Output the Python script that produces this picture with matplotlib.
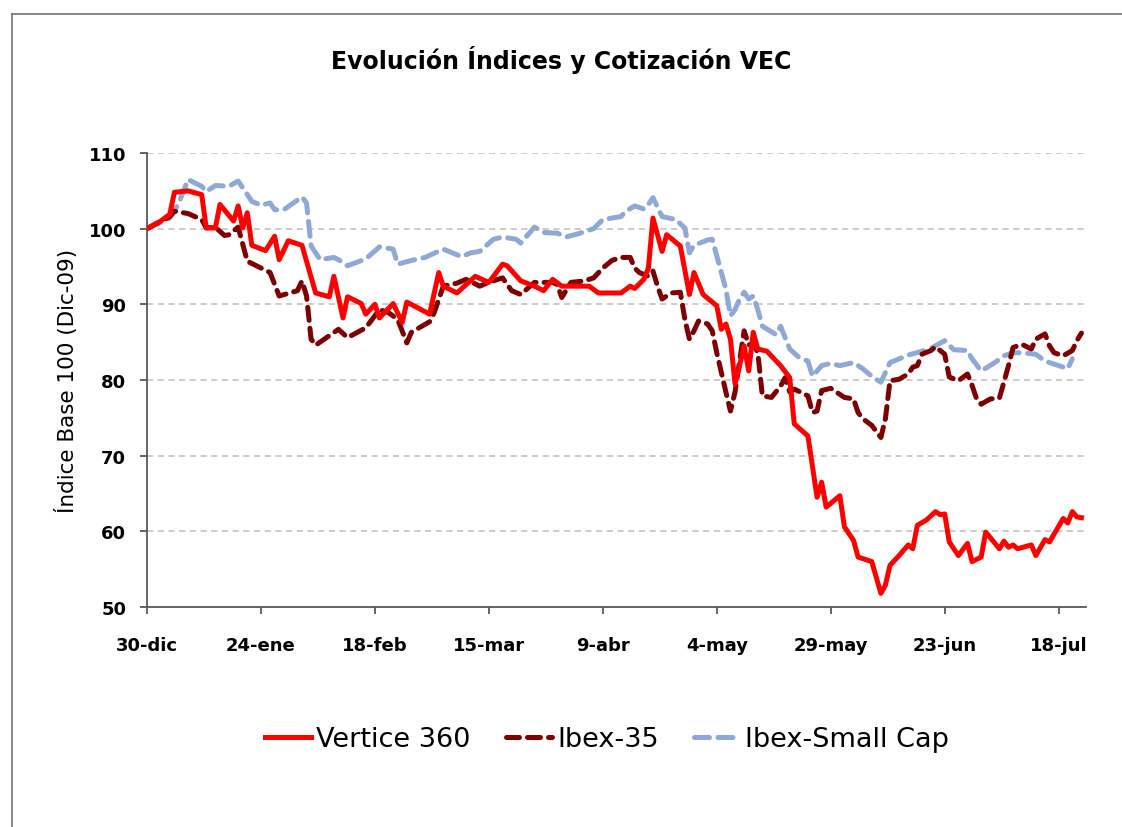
import matplotlib
matplotlib.use("Agg")
import matplotlib.pyplot as plt
from matplotlib.lines import Line2D

# days counted from 30-dic-2009
vec_days = [0, 3, 5, 6, 9, 12, 13, 15, 16, 19, 20, 21, 22, 23, 26, 28, 29, 31, 34, 37,
            40, 41, 43, 44, 47, 48, 50, 51, 54, 56, 57, 62, 64, 65, 68, 72, 75, 78, 79, 82,
            85, 87, 89, 91, 97, 99, 104, 106, 107, 109, 110, 111, 113, 114, 117, 119, 120, 122, 125, 126,
            127, 128, 129, 130, 131, 132, 133, 134, 136, 139, 141, 142, 145, 147, 148, 149, 152, 153, 155, 156,
            159, 161, 162, 163, 165, 167, 168, 169, 171, 173, 174, 175, 176, 178, 180, 181, 183, 184, 187, 188,
            189, 190, 191, 194, 195, 197, 198, 201, 202, 203, 204, 205]
vec_vals = [100, 101, 101.9, 104.8, 105.0, 104.5, 100.1, 100.1, 103.2, 101.0, 103.0, 100.1, 102.1, 97.8, 97.1, 99.0, 95.9, 98.4, 97.8, 91.5,
            91.0, 93.7, 88.2, 91.0, 90.1, 88.7, 90.0, 88.2, 90.1, 87.6, 90.3, 88.7, 94.2, 92.4, 91.5, 93.7, 92.9, 95.3, 95.1, 93.1,
            92.4, 91.8, 93.3, 92.4, 92.4, 91.5, 91.5, 92.4, 92.1, 93.3, 94.8, 101.4, 97.0, 99.2, 97.7, 91.3, 94.2, 91.3, 89.8, 86.7,
            87.4, 85.4, 79.5, 81.9, 84.5, 81.2, 86.3, 84.1, 83.8, 81.9, 80.3, 74.2, 72.6, 64.5, 66.5, 63.2, 64.7, 60.6, 58.8, 56.6,
            56.0, 51.8, 52.9, 55.5, 56.8, 58.2, 57.7, 60.8, 61.5, 62.6, 62.2, 62.3, 58.6, 56.8, 58.4, 56.0, 56.6, 59.9, 57.7, 58.7,
            57.9, 58.2, 57.7, 58.2, 56.8, 58.9, 58.6, 61.7, 61.1, 62.6, 61.9, 61.8]

ibex_days = [0, 5, 6, 9, 12, 13, 15, 17, 18, 20, 22, 27, 29, 33, 34, 35, 36, 37, 42, 44,
             48, 51, 53, 55, 57, 58, 62, 63, 65, 68, 70, 73, 75, 78, 80, 82, 85, 87, 89, 90,
             91, 93, 96, 98, 100, 102, 104, 106, 107, 108, 110, 111, 112, 113, 115, 117, 118, 119, 120, 121,
             123, 124, 125, 126, 127, 128, 129, 130, 131, 132, 133, 134, 135, 137, 139, 140, 141, 142, 145, 146,
             147, 148, 150, 153, 155, 156, 157, 159, 161, 162, 163, 165, 167, 168, 169, 170, 172, 173, 175, 176,
             178, 180, 181, 182, 183, 185, 187, 189, 190, 192, 194, 195, 197, 198, 199, 201, 203, 204, 205]
ibex_vals = [100, 101.6, 102.3, 102.0, 101.2, 100.1, 100.2, 99.1, 99.2, 100.2, 95.7, 94.2, 91.1, 91.8, 93.1, 91.1, 85.4, 84.6, 86.7, 85.6,
             86.9, 89.3, 88.9, 88.0, 84.9, 86.3, 87.7, 88.9, 92.4, 92.8, 93.3, 92.4, 92.9, 93.5, 91.8, 91.3, 92.9, 92.9, 92.9, 92.6,
             90.9, 92.9, 93.1, 93.5, 94.8, 95.8, 96.2, 96.2, 94.8, 94.2, 93.7, 94.4, 92.4, 90.7, 91.5, 91.6, 88.0, 85.4, 86.5, 87.8,
             87.4, 86.5, 83.6, 81.0, 78.4, 75.9, 78.4, 82.5, 86.5, 84.6, 84.9, 83.6, 77.9, 77.7, 79.2, 80.3, 78.4, 78.8, 77.9, 75.7,
             75.9, 78.6, 78.9, 77.7, 77.5, 75.7, 74.9, 74.0, 72.4, 74.9, 79.9, 80.1, 80.8, 81.7, 81.9, 83.4, 83.9, 84.4, 83.4, 80.4,
             79.9, 80.8, 79.3, 77.5, 76.8, 77.5, 77.6, 81.9, 84.3, 84.7, 84.1, 85.4, 86.1, 84.5, 83.6, 83.2, 83.9, 85.2, 86.2]

small_days = [0, 5, 7, 9, 12, 13, 15, 18, 20, 23, 25, 27, 28, 30, 34, 35, 36, 38, 41, 42,
              44, 48, 51, 54, 55, 58, 61, 65, 69, 71, 73, 76, 78, 81, 82, 85, 87, 90, 92, 95,
              98, 100, 102, 104, 105, 107, 109, 110, 111, 113, 116, 118, 119, 120, 123, 124, 125, 127, 128, 129,
              130, 131, 132, 133, 134, 135, 138, 139, 141, 143, 145, 146, 148, 150, 152, 155, 157, 159, 161, 163,
              165, 167, 170, 172, 175, 177, 180, 181, 183, 186, 188, 190, 192, 195, 197, 200, 202, 203]
small_vals = [100, 101.4, 103.4, 106.5, 105.6, 104.9, 105.7, 105.6, 106.3, 103.6, 103.1, 103.4, 102.5, 102.5, 104.2, 103.4, 97.7, 95.9, 96.2, 95.9,
              95.1, 96.0, 97.6, 97.3, 95.3, 95.8, 96.2, 97.3, 96.3, 96.8, 97.0, 98.6, 98.9, 98.6, 98.1, 100.2, 99.5, 99.4, 98.9, 99.4,
              100.0, 101.2, 101.4, 101.6, 102.3, 103.0, 102.6, 103.2, 104.1, 101.6, 101.2, 100.1, 96.8, 97.8, 98.5, 98.6, 96.4, 92.0, 88.5, 89.3,
              90.7, 91.6, 90.7, 91.1, 89.3, 87.1, 86.0, 87.1, 84.1, 83.0, 82.5, 80.5, 81.9, 82.2, 81.9, 82.3, 81.5, 80.5, 79.7, 82.3,
              82.8, 83.3, 83.8, 84.2, 85.2, 84.0, 83.9, 82.8, 81.2, 82.3, 83.2, 83.6, 83.6, 83.4, 82.5, 81.9, 81.5, 82.8]

tick_days = [0, 25, 50, 75, 100, 125, 150, 175, 200]
tick_labels = ["30-dic", "24-ene", "18-feb", "15-mar", "9-abr", "4-may", "29-may", "23-jun", "18-jul"]

plt.rcParams["font.family"] = "DejaVu Sans"

fig = plt.figure(figsize=(11.22, 8.28), dpi=100)
ax = fig.add_axes([147/1122, 1-608/828, (1086-147)/1122, (608-154)/828])

ax.plot(vec_days, vec_vals, color="#FF0000", lw=3.6, solid_joinstyle="round", label="Vertice 360", zorder=3)
ax.plot(ibex_days, ibex_vals, color="#7F0000", lw=3.6, ls=(0, (2.6, 1.6)), dash_capstyle="round",
        label="Ibex-35", zorder=2)
ax.plot(small_days, small_vals, color="#8EA9D8", lw=3.6, ls=(0, (3.0, 1.7)), dash_capstyle="round",
        label="Ibex-Small Cap", zorder=1)

ax.set_xlim(0, 206)
ax.set_ylim(50, 110)
ax.set_yticks([50, 60, 70, 80, 90, 100, 110])
ax.set_xticks(tick_days)
ax.set_xticklabels(tick_labels)
ax.grid(axis="y", color="#BFBFBF", ls=(0, (4, 3)), lw=1.1)
ax.set_axisbelow(True)
for s in ["top", "right"]:
    ax.spines[s].set_visible(False)
for s in ["left", "bottom"]:
    ax.spines[s].set_color("#595959")
    ax.spines[s].set_linewidth(1.3)
ax.tick_params(axis="y", length=5, width=1.3, color="#595959", pad=10, labelsize=13)
ax.tick_params(axis="x", length=5, width=1.3, color="#595959", pad=16, labelsize=13)
for t in ax.get_xticklabels() + ax.get_yticklabels():
    t.set_fontweight("bold")

ax.set_ylabel("Índice Base 100 (Dic-09)", fontsize=15.5)
ax.yaxis.set_label_coords(-0.073, 0.5)

fig.text(0.5, 1-60/828, "Evolución Índices y Cotización VEC", ha="center", va="center",
         fontsize=17, fontweight="bold")

fig.legend(loc="center", bbox_to_anchor=(607/1122, 1-740/828), ncol=3, frameon=False,
           fontsize=19.5, handlelength=1.7, handletextpad=0.2, columnspacing=1.3)

# outer chart frame
fig.add_artist(Line2D([12/1122, 12/1122], [-0.01, 1-15/828], transform=fig.transFigure, color="#7F7F7F", lw=1.3))
fig.add_artist(Line2D([12/1122, 1.01], [1-15/828, 1-15/828], transform=fig.transFigure, color="#7F7F7F", lw=1.3))

fig.savefig("out.png", dpi=100)
